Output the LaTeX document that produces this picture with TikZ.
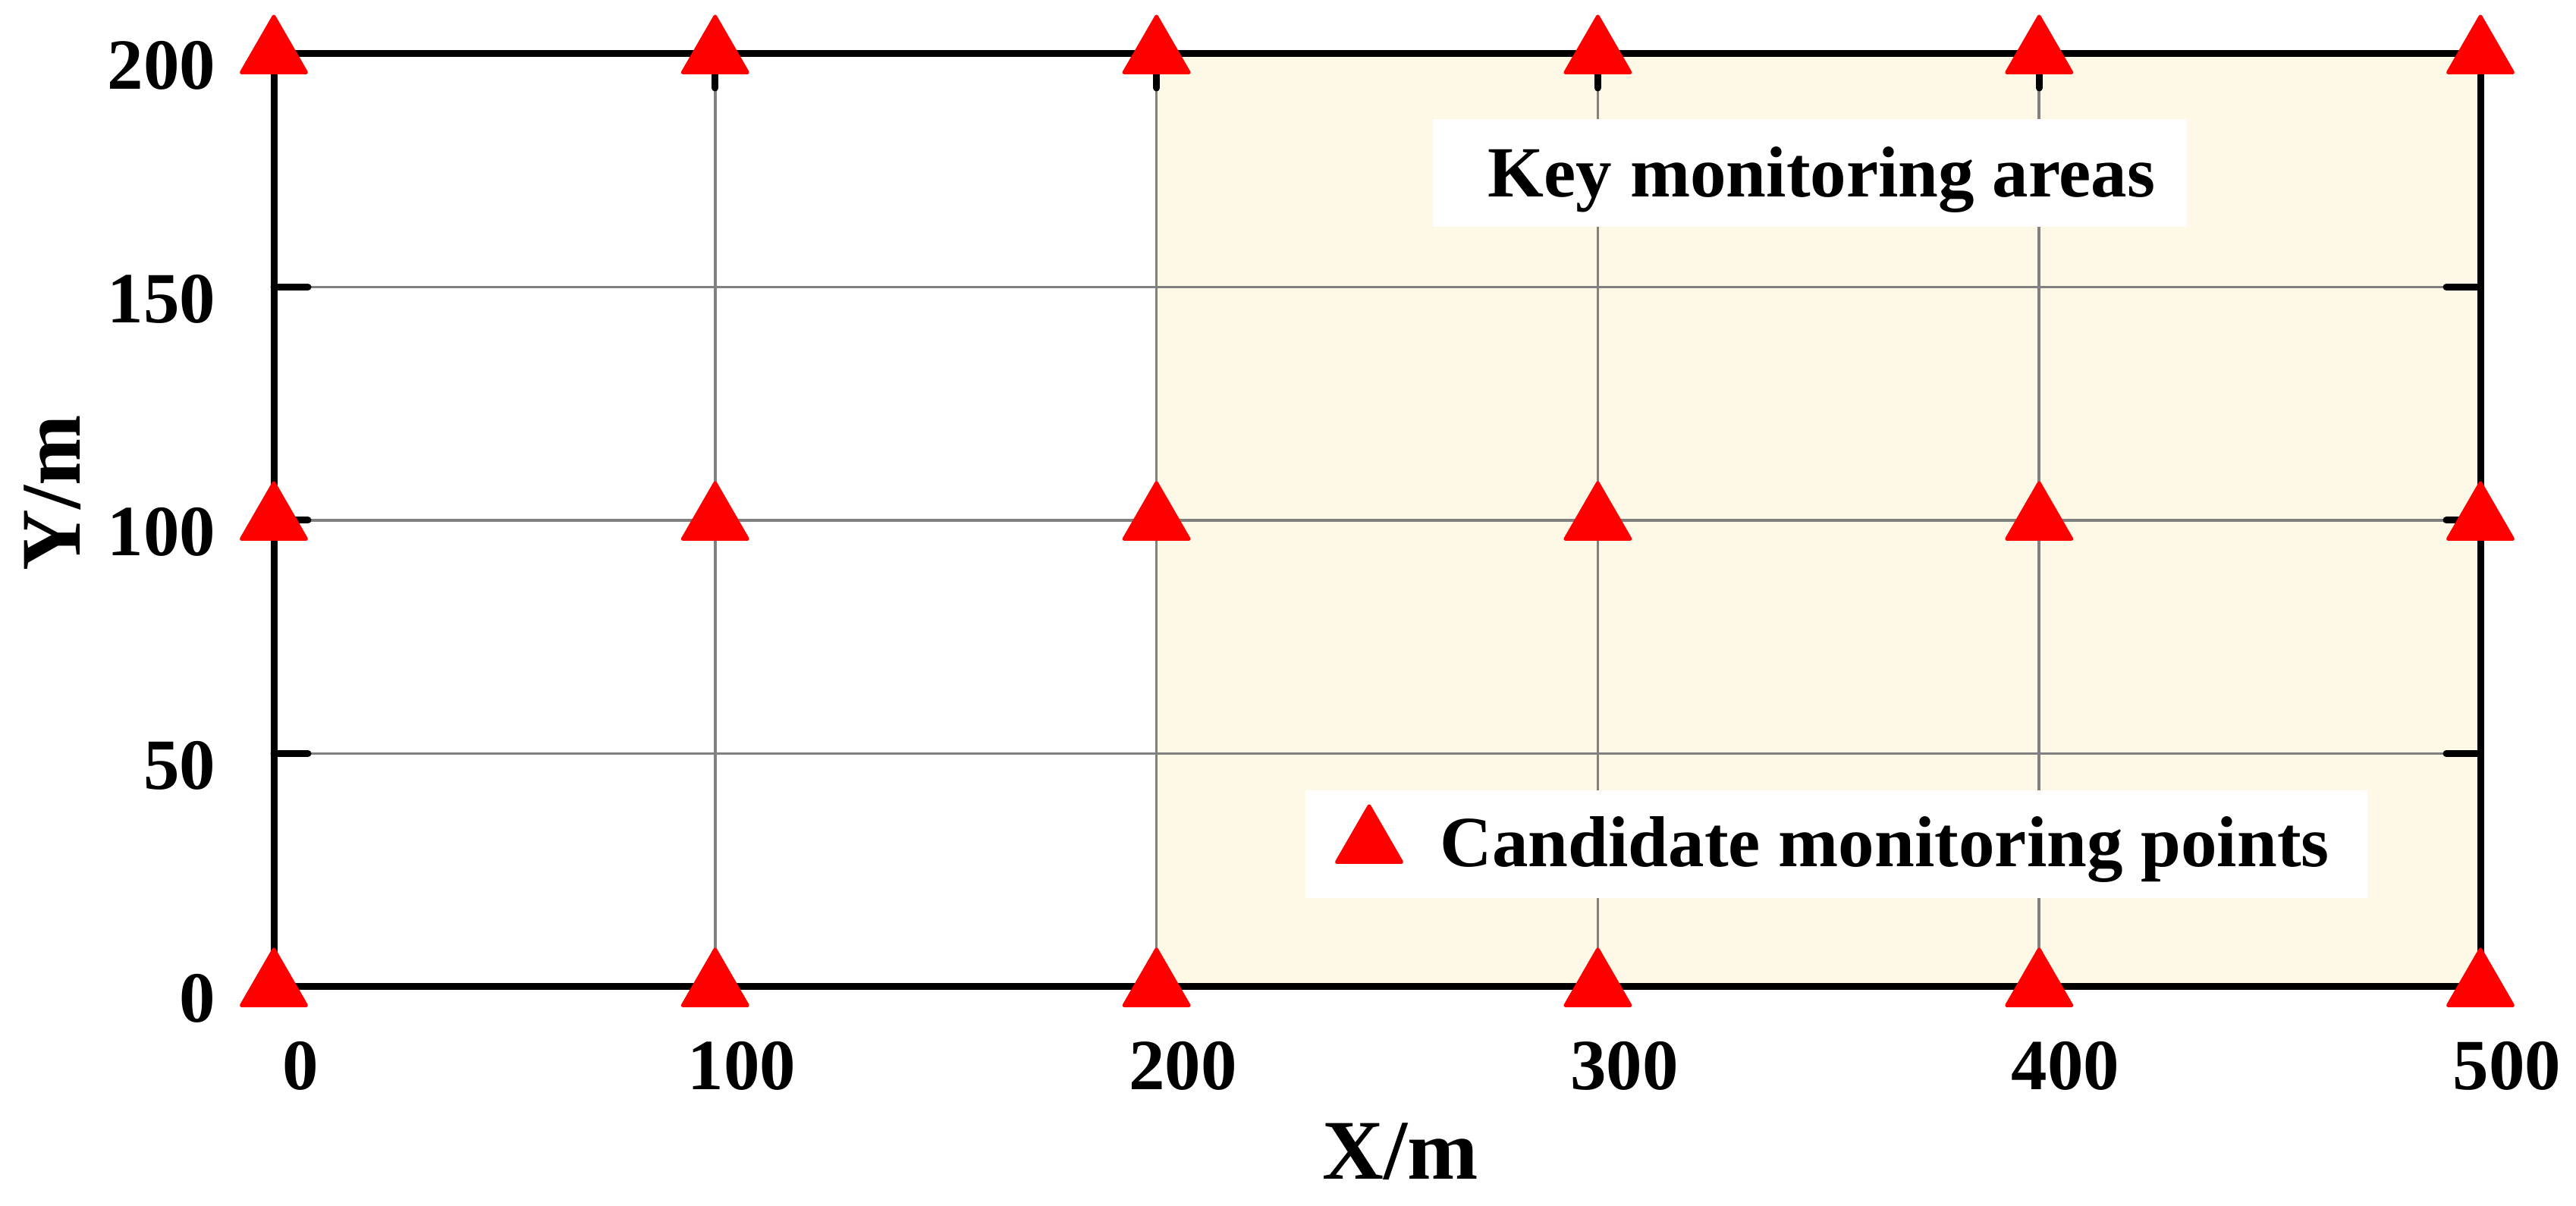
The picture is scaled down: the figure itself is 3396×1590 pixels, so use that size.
\documentclass[tikz,border=0pt]{standalone}
\usepackage{fontspec}
\setmainfont{Liberation Serif}
\usetikzlibrary{shapes.geometric}
\definecolor{keyfill}{RGB}{254,248,230}
\definecolor{gridgray}{RGB}{128,128,128}
\definecolor{markred}{RGB}{255,0,0}
\begin{document}
\begin{tikzpicture}[x=0.25pt,y=-0.25pt,
  tri/.style={regular polygon, regular polygon sides=3, fill=markred, draw=markred,
    line join=round, line width=1.2pt, minimum size=24.6pt, inner sep=0pt, outer sep=0pt},
  gridline/.style={gridgray, line width=0.9pt},
  frameline/.style={black, line width=2.25pt},
  tickline/.style={black, line width=2.25pt, line cap=round},
  ticklabel/.style={font=\fontsize{23.75}{28}\selectfont\bfseries, inner sep=0pt},
  axislabel/.style={font=\fontsize{28}{33}\selectfont\bfseries, inner sep=0pt},
  boxtext/.style={font=\fontsize{23.75}{28}\selectfont\bfseries, inner sep=0pt}]
\useasboundingbox (0,0) rectangle (3396,1590);
% key area shading
\fill[keyfill] (1524.6,71) rectangle (3270,1301);
% grid
\foreach \gx in {942.8,1524.6,2106.4,2688.2}
  \draw[gridline] (\gx,71) -- (\gx,1301);
\foreach \gy in {993.5,686,378.5}
  \draw[gridline] (361,\gy) -- (3270,\gy);
% white boxes
\fill[white] (1889,157) rectangle (2883,299);
\fill[white] (1721,1042) rectangle (3121,1184);
% ticks
\foreach \gx in {942.8,1524.6,2106.4,2688.2}{
  \draw[tickline] (\gx,71) -- (\gx,116);
  \draw[tickline] (\gx,1301) -- (\gx,1256);}
\foreach \gy in {993.5,686,378.5}{
  \draw[tickline] (361,\gy) -- (406,\gy);
  \draw[tickline] (3270,\gy) -- (3225,\gy);}
% frame
\draw[frameline] (361,71) rectangle (3270,1301);
% markers
\foreach \gx [count=\i] in {361,942.8,1524.6,2106.4,2688.2,3270}
  \foreach \gy [count=\j] in {1301,686,71}
    \node[tri] (m\i-\j) at (\gx,\gy) {};
% tick labels
\foreach \v/\gy in {0/1301,50/993.5,100/686,150/378.5,200/71}
  \node[ticklabel, anchor=base east] (yl\v) at (285,\gy+47) {\v};
\foreach \v/\gx in {0/361,100/942.8,200/1524.6,300/2106.4,400/2688.2,500/3270}
  \node[ticklabel, anchor=base] (xl\v) at (\gx+35,1437) {\v};
% axis labels
\node[axislabel, anchor=base] (xlab) at (1846,1555) {X/m};
\node[axislabel, anchor=base, rotate=90] (ylab) at (105,650) {Y/m};
% texts in boxes
\node[boxtext, anchor=base west] (keytext) at (1961,260) {Key monitoring areas};
\node[tri] (legmark) at (1805,1112) {};
\node[boxtext, anchor=base west] (legtext) at (1898,1143) {Candidate monitoring points};
\end{tikzpicture}
\end{document}
